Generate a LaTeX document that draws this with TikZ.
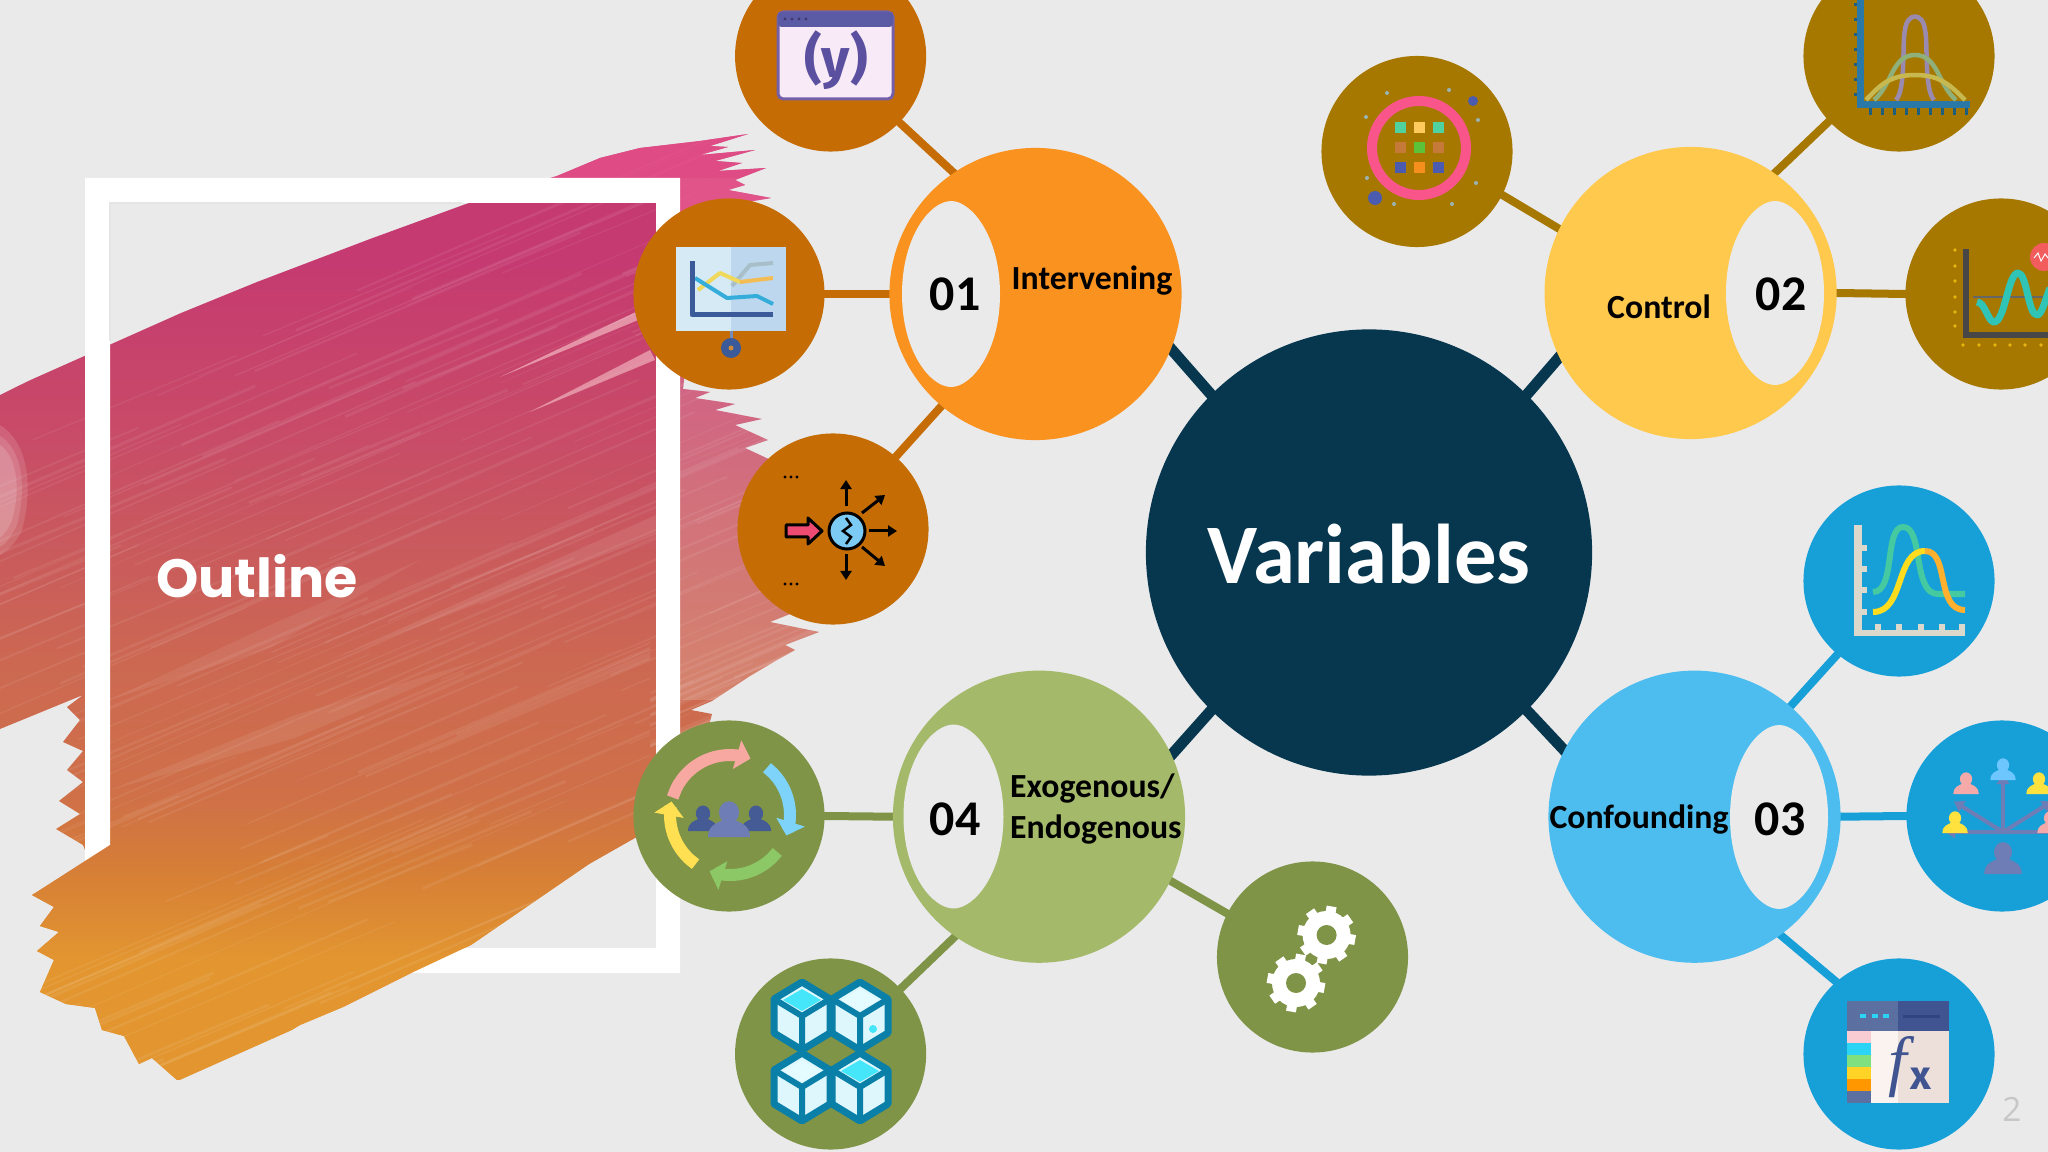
\documentclass[tikz,border=0pt]{standalone}
\usepackage{fontspec}
\setmainfont{Carlito}
\newfontfamily\popfont{Poppins}
\newfontfamily\firafont{Fira Sans}
\newfontfamily\openfont{Open Sans}
\newfontfamily\serffont{Liberation Serif}
\usetikzlibrary{arrows.meta}
\pgfdeclarelayer{brushlayer}
\pgfdeclarelayer{links}
\pgfsetlayers{brushlayer,links,main}
\definecolor{bgc}{HTML}{EAEAEB}
\definecolor{hubc}{HTML}{07374F}
\definecolor{gA}{HTML}{F9921F}\definecolor{sA}{HTML}{C56D04}
\definecolor{gB}{HTML}{FFC94D}\definecolor{sB}{HTML}{A67800}
\definecolor{gC}{HTML}{4CBDEE}\definecolor{sC}{HTML}{17A0D8}
\definecolor{gD}{HTML}{A5B96B}\definecolor{sD}{HTML}{7F9447}
\definecolor{br0}{HTML}{E39630}\definecolor{br1}{HTML}{D67F36}
\definecolor{br2}{HTML}{CF7048}\definecolor{br3}{HTML}{CC6852}
\definecolor{br4}{HTML}{C9585E}\definecolor{br5}{HTML}{C84A68}
\definecolor{br6}{HTML}{C53A70}
\pgfdeclareverticalshading{brushgrad}{100bp}{color(0bp)=(br0); color(39.7bp)=(br0); color(42.3bp)=(br1); color(44.6bp)=(br2); color(48.5bp)=(br3); color(52.4bp)=(br4); color(55.5bp)=(br5); color(60.3bp)=(br6); color(100bp)=(br6)}
\def\px{0.2845pt}
\tikzset{
  satnode/.style={circle,inner sep=0pt,outer sep=0pt,minimum size=1.91cm},
  groupnode/.style={circle,inner sep=0pt,outer sep=0pt,minimum size=2.92cm},
  spoke/.style={line width=8*\px,shorten <=-1pt,shorten >=-1pt},
  hublink/.style={hubc,line width=11*\px,shorten <=-1pt,shorten >=-1pt},
  numtxt/.style={font=\bfseries\fontsize{14.2}{17}\selectfont,text=black,inner sep=0pt},
  labtxt/.style={font=\bfseries\fontsize{9.6}{11.4}\selectfont,text=black,inner sep=0pt},
}
\newcommand{\lensmark}[4]{\begin{scope}[shift={(#1,#2)},xscale=#3,yscale=#4]
 \fill[bgc] (0,-1) .. controls (.42,-1) and (1,-.62) .. (1,0) .. controls (1,.62) and (.42,1) .. (0,1) .. controls (-.42,1) and (-1,.62) .. (-1,0) .. controls (-1,-.62) and (-.42,-1) .. cycle;
\end{scope}}
\newcommand{\personmark}[4]{\begin{scope}[shift={(#1,#2)},scale=#3]
 \fill[#4] (-1.5,0) .. controls (-1.5,-.8) and (-.9,-1) .. (-.45,-1.2) -- (.45,-1.2) .. controls (.9,-1) and (1.5,-.8) .. (1.5,0) -- cycle;
 \fill[#4] (0,-1.75) ellipse[x radius=.72,y radius=.8];
\end{scope}}
\newcommand{\arcarrow}[6]{\draw[#6,line width=12*\px,-{Triangle[length=.14cm,width=.29cm]}] plot[smooth,domain=0:1,samples=9] ({#1+#3*cos(#4+(#5-#4)*\x)},{#2-#3*sin(#4+(#5-#4)*\x)});}
\definecolor{cubeline}{HTML}{0A7FA8}
\definecolor{cubeface}{HTML}{DDF7FC}
\newcommand{\cubemark}[3]{\begin{scope}[shift={(#1,#2)}]
 \draw[fill=cubeface,draw=cubeline,line width=7*\px,line join=round] (0,-34) -- (28,-17) -- (28,17) -- (0,34) -- (-28,17) -- (-28,-17) -- cycle;
 \fill[#3] (0,-27) -- (19,-16) -- (0,-5) -- (-19,-16) -- cycle;
 \draw[cubeline,line width=6*\px] (-28,-17) -- (0,0) -- (28,-17) (0,0) -- (0,34);
\end{scope}}
\newcommand{\gearmark}[2]{\begin{scope}[shift={(#1,#2)}]
 \foreach \a in {10,55,...,325}{\draw[white,line width=10*\px] ({20*cos(\a)},{20*sin(\a)}) -- ({29*cos(\a)},{29*sin(\a)});}
 \fill[white] (0,0) circle[radius=24];
 \fill[sD] (0,0) circle[radius=10];
\end{scope}}
\begin{document}
\begin{tikzpicture}[x=0.01cm,y=-0.01cm]
\useasboundingbox (0,0) rectangle (2048,1152);
\begin{pgfonlayer}{brushlayer}
\fill[bgc] (0,0) rectangle (2048,1152);
\begin{scope}
\clip (0,395) -- (83,354) -- (110,342) -- (257,282) -- (370,239) -- (466,204) -- (557,176) -- (600,158) -- (640,148) -- (700,141) -- (748,134) -- (710,146) -- (728,147) -- (700,155) -- (755,150) -- (715,161) -- (742,163) -- (718,171) -- (766,168) -- (735,180) -- (745,185) -- (728,190) -- (771,198) -- (735,204) -- (700,240) -- (683,389) -- (710,392) -- (695,398) -- (735,404) -- (715,410) -- (762,419) -- (735,425) -- (768,440) -- (745,448) -- (775,462) -- (790,500) -- (790,590) -- (795,612) -- (770,622) -- (819,632) -- (785,645) -- (795,650) -- (777,660) -- (750,676) -- (712,701) -- (691,710) -- (712,714) -- (700,760) -- (640,835) -- (589,864) -- (471,945) -- (407,975) -- (343,1007) -- (300,1025) -- (214,1076) -- (177,1080) -- (152,1058) -- (139,1064) -- (124,1036) -- (102,1030) -- (95,1008) -- (66,1004) -- (40,992) -- (54,960) -- (37,951) -- (59,932) -- (40,926) -- (54,907) -- (32,895) -- (90,862) -- (83,845) -- (56,829) -- (80,814) -- (59,801) -- (83,782) -- (67,770) -- (83,751) -- (63,742) -- (80,720) -- (67,707) -- (83,695) -- (0,729) -- cycle;
\begin{scope}[shift={(370,612)},rotate=24]
 \shade[shading=brushgrad] (-1300,-350) rectangle (1300,350);
 \pgfmathsetseed{11}
 \foreach \i in {1,...,170}{
  \pgfmathsetmacro{\xa}{-620+rnd*1000}
  \pgfmathsetmacro{\ya}{-300+rnd*640}
  \pgfmathsetmacro{\la}{150+rnd*500}
  \pgfmathsetmacro{\wa}{.2+rnd*.7}
  \draw[white,opacity=.07,line width=\wa pt] (\xa,\ya) -- ({\xa+\la},\ya+6);
 }
\end{scope}
\fill[white,opacity=.17] (680,178) rectangle (860,700);
\fill[color={rgb,255:red,232;green,82;blue,140},opacity=.75] (500,100) rectangle (860,178);
\fill[color={rgb,255:red,232;green,82;blue,140},opacity=.75] (680,178) rectangle (860,240);
\fill[color=white!40!pink,opacity=.55] (500,377) -- (640,310) -- (648,316) -- cycle;
\fill[color=white!40!pink,opacity=.5] (530,412) -- (650,350) -- (655,360) -- cycle;
\fill[white,opacity=.09] (330,660) -- (656,515) -- (656,535) -- cycle;
\fill[white,opacity=.07] (110,700) -- (270,625) -- (420,560) -- (270,648) -- cycle;
\fill[white,opacity=.08] (110,790) -- (295,715) -- (480,660) -- (295,738) -- cycle;
\fill[white,opacity=.13] (0,425) .. controls (25,440) and (35,480) .. (22,530) .. controls (15,545) and (5,552) .. (0,555) -- cycle;
\fill[white,opacity=.13] (0,436) .. controls (20,448) and (28,482) .. (17,525) .. controls (11,538) and (4,545) .. (0,547) -- cycle;
\fill[white,opacity=.15] (0,445) .. controls (15,455) and (22,485) .. (12,520) .. controls (8,530) and (3,535) .. (0,538) -- cycle;
\end{scope}
\fill[white,even odd rule] (85,178) rectangle (680,973) (110,203) rectangle (656,948);
\draw[black!10,line width=1.5*\px] (110,341) -- (110,203) -- (462,203);
\begin{scope}
\clip (32,895) -- (85,861) -- (110,845) -- (300,780) -- (650,640) -- (650,790) -- (640,835) -- (589,864) -- (471,945) -- (407,975) -- (343,1007) -- (300,1025) -- (214,1076) -- (177,1080) -- (152,1058) -- (139,1064) -- (124,1036) -- (102,1030) -- (95,1008) -- (66,1004) -- (40,992) -- (54,960) -- (37,951) -- (59,932) -- (40,926) -- (54,907) -- cycle;
\begin{scope}[shift={(370,612)},rotate=24]
 \shade[shading=brushgrad] (-1300,-350) rectangle (1300,350);
 \pgfmathsetseed{23}
 \foreach \i in {1,...,60}{
  \pgfmathsetmacro{\xa}{-620+rnd*1000}
  \pgfmathsetmacro{\ya}{140+rnd*200}
  \pgfmathsetmacro{\la}{150+rnd*500}
  \pgfmathsetmacro{\wa}{.2+rnd*.7}
  \draw[white,opacity=.07,line width=\wa pt] (\xa,\ya) -- ({\xa+\la},\ya+6);
 }
\end{scope}
\end{scope}
\end{pgfonlayer}

\node[circle,inner sep=0pt,outer sep=0pt,minimum size=4.46cm,fill=hubc] (hub) at (1369,552.5) {};
\node[text=white,font=\bfseries\fontsize{24.1}{28}\selectfont,inner sep=0pt] (hubtxt) at (1369,554) {Variables};
\node[groupnode,fill=gA] (g1) at (1035.5,294) {};
\node[groupnode,fill=gB] (g2) at (1690.6,293) {};
\node[groupnode,fill=gC] (g3) at (1694.5,816.7) {};
\node[groupnode,fill=gD] (g4) at (1039,816.7) {};
\node[satnode,fill=sA] (s11) at (830.6,56) {};
\node[satnode,fill=sA] (s12) at (729,294) {};
\node[satnode,fill=sA] (s13) at (833,529) {};
\node[satnode,fill=sB] (s21) at (1417,151.5) {};
\node[satnode,fill=sB] (s22) at (1899,56) {};
\node[satnode,fill=sB] (s23) at (2001,294) {};
\node[satnode,fill=sC] (s31) at (1899,581) {};
\node[satnode,fill=sC] (s32) at (2002,816) {};
\node[satnode,fill=sC] (s33) at (1899,1054) {};
\node[satnode,fill=sD] (s41) at (729,816) {};
\node[satnode,fill=sD] (s42) at (830.6,1054) {};
\node[satnode,fill=sD] (s43) at (1312.5,957) {};

\begin{pgfonlayer}{links}
\draw[hublink] (hub.135) -- (g1.-22.5);
\draw[hublink] (hub.45) -- (g2.206.6);
\draw[hublink] (hub.-45) -- (g3.153);
\draw[hublink] (hub.225) -- (g4.25.4);
\draw[spoke,sA] (s11.-44.6) -- (g1.124.5);
\draw[spoke,sA] (s12.0) -- (g1.180);
\draw[spoke,sA] (s13.49) -- (g1.230);
\draw[spoke,sB] (s21.-27.6) -- (g2.154);
\draw[spoke,sB] (s22.223) -- (g2.55);
\draw[spoke,sB] (s23.180) -- (g2.0);
\draw[spoke,sC] (s31.230.6) -- (g3.49);
\draw[spoke,sC] (s32.180) -- (g3.0);
\draw[spoke,sC] (s33.131.6) -- (g3.-54);
\draw[spoke,sD] (s41.0) -- (g4.180);
\draw[spoke,sD] (s42.43.7) -- (g4.235);
\draw[spoke,sD] (s43.153) -- (g4.-26.8);
\end{pgfonlayer}

\lensmark{951}{294}{49}{93}
\lensmark{1775}{293}{49}{92}
\lensmark{1779}{817}{49}{92}
\lensmark{953.5}{816.5}{50}{92}
\node[numtxt] (n1) at (955,294) {01};
\node[numtxt] (n2) at (1781,294) {02};
\node[numtxt] (n3) at (1780,819) {03};
\node[numtxt] (n4) at (955,819) {04};
\node[labtxt] (l1) at (1092,281) {Intervening};
\node[labtxt] (l2) at (1659,307) {Control};
\node[labtxt] (l3) at (1639,820) {Confounding};
\node[labtxt,anchor=west] (l4a) at (1009.5,789) {Exogenous/};
\node[labtxt,anchor=west] (l4b) at (1009.5,830) {Endogenous};
\node[font=\popfont\bfseries\fontsize{15.3}{17}\selectfont,text=white,inner sep=0pt] (outline) at (257,576) {Outline};
\node[font=\openfont\fontsize{9.5}{11}\selectfont,text=black!22,inner sep=0pt] (pagenum) at (2012,1109) {2};

% --- icon s11
\definecolor{winbody}{HTML}{F8EAF6}\definecolor{winbar}{HTML}{5B5BA5}\definecolor{wintxt}{HTML}{5B4FA0}\definecolor{winline}{HTML}{7360A8}
\draw[fill=winbody,draw=winline,line width=3*\px,rounded corners=1.5pt] (778,12) rectangle (893,99);
\fill[winbar,rounded corners=1pt] (778,12) rectangle (893,27);
\foreach \xx in {785,792,799,806}{\fill[wintxt!70!black] (\xx,19) circle[radius=1.6];}
\node[font=\firafont\bfseries\fontsize{15.5}{18}\selectfont,text=wintxt,inner sep=0pt] (ytxt) at (836,60) {(y)};

% --- icon s12
\definecolor{boardA}{HTML}{D6EAF5}\definecolor{boardB}{HTML}{BDD8EE}\definecolor{axA}{HTML}{3A5A9A}
\definecolor{lnA}{HTML}{34ADDB}\definecolor{lnB}{HTML}{EFD85A}\definecolor{lnC}{HTML}{A8BEC8}\definecolor{lnD}{HTML}{F3BC55}
\fill[boardA] (676,247) rectangle (786,331);
\fill[boardB] (731,247) rectangle (786,331);
\draw[line width=3*\px,color=axA!70!white] (731,331) -- (731,342);
\fill[axA] (731,348) circle[radius=10];
\fill[sA!80!white] (731,348) circle[radius=2.5];
\draw[line width=4*\px,lnC,line join=round] (732,286) -- (750,265) -- (773,263);
\draw[line width=4*\px,lnB,line join=round] (698,290) -- (720,273) -- (740,282);
\draw[line width=4*\px,lnD,line join=round] (740,282) -- (773,278);
\draw[line width=4*\px,lnA,line join=round] (695,278) -- (727,298) -- (757,296) -- (773,304);
\draw[line width=5*\px,axA,line join=round] (692,261) -- (692,315) -- (773,315);

% --- icon s13
\definecolor{arrowpink}{HTML}{EE4B73}\definecolor{discblue}{HTML}{7CCBF5}
\foreach \yy in {477,584}{\foreach \xx in {785,791,797}{\fill[black] (\xx,\yy) circle[radius=1.6];}}
\draw[fill=arrowpink,draw=black,line width=3*\px,line join=round] (786,525) -- (808,525) -- (808,518) -- (822,531) -- (808,544) -- (808,537) -- (786,537) -- cycle;
\draw[fill=discblue,draw=black,line width=3*\px] (847,531) circle[radius=18];
\draw[black,line width=2.5*\px] (846,518) -- (851,525) -- (843,531) -- (851,537) -- (846,544);
\foreach \xs/\ys/\xe/\ye in {846/506/846/480,846/554/846/580,869/531/897/531,862/513/885/495,862/547/885/566}{
 \draw[black,line width=3*\px,-{Triangle[length=.09cm,width=.11cm]}] (\xs,\ys) -- (\xe,\ye);}

% --- icon s21
\definecolor{ringc}{HTML}{F9558B}
\draw[ringc,line width=10*\px] (1419,148) circle[radius=47];
\foreach \xx/\yy/\cc in {1400/128/50D1A0,1419/128/FFCB5E,1438/128/50D1A0,1400/148/C57A3A,1419/148/5CC23A,1438/148/C57A3A,1400/168/4B5CB0,1419/168/F5901E,1438/168/4B5CB0}{
 \definecolor{cc}{HTML}{\cc}
 \fill[cc] (\xx-5.5,\yy-5.5) rectangle (\xx+5.5,\yy+5.5);}
\definecolor{dotb}{HTML}{4B5CB0}\definecolor{dotg}{HTML}{9AB4B4}
\fill[dotb] (1473,101) circle[radius=5];
\fill[dotb] (1375,198) circle[radius=7];
\foreach \xx/\yy in {1387/93,1449/90,1366/117,1478/120,1367/178,1476/183,1394/204,1452/204}{\fill[dotg] (\xx,\yy) circle[radius=2];}

% --- icon s22
\definecolor{axb}{HTML}{2A78A8}\definecolor{axt}{HTML}{1E5F80}
\definecolor{belP}{HTML}{9A8AB0}\definecolor{belG}{HTML}{8FB07A}\definecolor{belY}{HTML}{C8B850}
\foreach \yy in {5,20,...,95}{\draw[axt,line width=3*\px] (1854,\yy) -- (1860,\yy);}
\foreach \xx in {1870,1882,...,1966}{\draw[axt,line width=3*\px] (\xx,106) -- (\xx,115);}
\draw[axb,line width=7*\px] (1860.6,0) -- (1860.6,105) -- (1970,105);
\draw[line width=4.5*\px,belP] (1896,100) .. controls (1906,90) and (1902,40) .. (1905,30) .. controls (1907,12) and (1923,12) .. (1925,30) .. controls (1928,40) and (1924,90) .. (1934,100);
\draw[line width=4.5*\px,belG] (1874,100) .. controls (1892,85) and (1892,55) .. (1915,55) .. controls (1938,55) and (1938,85) .. (1956,100);
\draw[line width=4.5*\px,belY] (1866,100) .. controls (1880,85) and (1890,75) .. (1915,75) .. controls (1940,75) and (1950,85) .. (1965,100);

% --- icon s23
\definecolor{goldd}{HTML}{E5B512}\definecolor{wavec}{HTML}{2FC4B5}\definecolor{redc}{HTML}{F25C5C}
\foreach \yy in {250,266,281,297,312,326}{\fill[goldd] (1955,\yy) circle[radius=1.8];}
\foreach \xx in {1963,1979,1995,2010,2025,2041}{\fill[goldd] (\xx,345) circle[radius=1.8];}
\draw[black!72,line width=6*\px] (1965.5,249) -- (1965.5,335) -- (2048,335);
\draw[black!60,line width=2*\px] (1973,297) -- (2048,297);
\draw[wavec,line width=7*\px,line join=round] (1977,302) .. controls (1985,302) and (1988,322) .. (1994,322) .. controls (2005,322) and (2008,273) .. (2018,273) .. controls (2027,273) and (2028,315) .. (2037,315) .. controls (2042,315) and (2045,300) .. (2050,288);
\fill[redc] (2044,257) circle[radius=14];
\draw[white,line width=1*\px] (2034,258) -- (2038,253) -- (2041,261) -- (2045,254) -- (2048,258);

% --- icon s31
\definecolor{axs}{HTML}{DDD8CC}\definecolor{crvG}{HTML}{45C9A0}\definecolor{crvY}{HTML}{FFDD1E}\definecolor{crvO}{HTML}{FFB02E}
\fill[axs] (1854,525) rectangle (1862,636);
\fill[axs] (1854,630) rectangle (1965,636);
\foreach \yy in {548,569,590,612}{\fill[axs] (1862,\yy-3) rectangle (1867,\yy+3);}
\foreach \xx in {1878,1899,1921,1942,1962}{\fill[axs] (\xx-3,624) rectangle (\xx+3,630);}
\draw[line width=6*\px,crvG] (1873,592) .. controls (1896,592) and (1884,527) .. (1903,527) .. controls (1924,527) and (1912,594) .. (1938,594) -- (1965,594);
\draw[line width=6*\px,crvY] (1873,612) .. controls (1905,612) and (1895,551) .. (1925,551);
\draw[line width=6*\px,crvO] (1925,551) .. controls (1950,551) and (1935,610) .. (1965,610);

% --- icon s32
\definecolor{pp}{HTML}{6E7DB5}\definecolor{ppk}{HTML}{F5A9A9}\definecolor{pbl}{HTML}{6EC6FF}\definecolor{pye}{HTML}{FFE23D}
\foreach \ang in {0,32,90,148,180}{
 \draw[pp,line width=4*\px,-{Triangle[length=.1cm,width=.12cm]}] (2003,832) -- ({2003+58*cos(\ang)},{832-58*sin(\ang)});}
\personmark{2003}{874}{12.5}{pp}
\personmark{1966}{794}{8.5}{ppk}
\personmark{2003}{780}{8.5}{pbl}
\personmark{2039}{794}{8.5}{pye}
\personmark{1955}{833}{8.5}{pye}
\personmark{2050}{833}{8.5}{ppk}

% --- icon s33
\definecolor{wA}{HTML}{EDE0DA}\definecolor{wB}{HTML}{FBF3F0}\definecolor{ta}{HTML}{5B6FA0}\definecolor{tb}{HTML}{3F5490}\definecolor{tc}{HTML}{2BD3F5}\definecolor{td}{HTML}{2E4580}
\fill[wA] (1847,1031) rectangle (1949,1103);
\fill[wB] (1871,1031) rectangle (1898,1103);
\fill[ta] (1847,1001) rectangle (1898,1031);
\fill[tb] (1898,1001) rectangle (1949,1031);
\foreach \xx in {1863,1875,1886}{\fill[tc] (\xx-3,1013.5) rectangle (\xx+3,1018);}
\draw[line width=3*\px,td] (1903,1016) -- (1940,1016);
\foreach \ya/\yb/\cc in {1031/1043/F9CBD3,1043/1055/2BD3F5,1055/1067/7EE07E,1067/1079/FFD426,1079/1091/FF9800,1091/1103/5B6FA0}{
 \definecolor{cc}{HTML}{\cc}\fill[cc] (1847,\ya) rectangle (1871,\yb);}
\node[font=\serffont\itshape\fontsize{19}{22}\selectfont,text=tb,inner sep=0pt] (ftxt) at (1898,1067) {f};
\node[font=\firafont\bfseries\fontsize{11.5}{13}\selectfont,text=tb,inner sep=0pt] (xtxt) at (1921,1079) {x};

% --- icon s41
\definecolor{cyP}{HTML}{F7A8A0}\definecolor{cyB}{HTML}{7DD3F9}\definecolor{cyG}{HTML}{8CC865}\definecolor{cyY}{HTML}{FFE052}\definecolor{pd}{HTML}{445B96}
\arcarrow{730}{815}{60}{163}{70}{cyP}
\arcarrow{730}{815}{60}{52}{-20}{cyB}
\arcarrow{730}{815}{60}{-38}{-110}{cyG}
\arcarrow{730}{815}{60}{-125}{-193}{cyY}
\personmark{703}{831}{10}{pd}
\personmark{756}{831}{10}{pd}
\personmark{729}{837}{14}{pp}

% --- icon s42
\definecolor{cubeA}{HTML}{45E6FA}\definecolor{cubeB}{HTML}{E4FBFF}
\cubemark{802}{1016}{cubeA}
\cubemark{860}{1016}{cubeB}
\cubemark{802}{1087}{cubeB}
\cubemark{860}{1087}{cubeA}
\fill[cubeA] (873,1029) circle[radius=4];

% --- icon s43
\gearmark{1326.6}{935}
\gearmark{1296}{983}
\end{tikzpicture}
\end{document}
